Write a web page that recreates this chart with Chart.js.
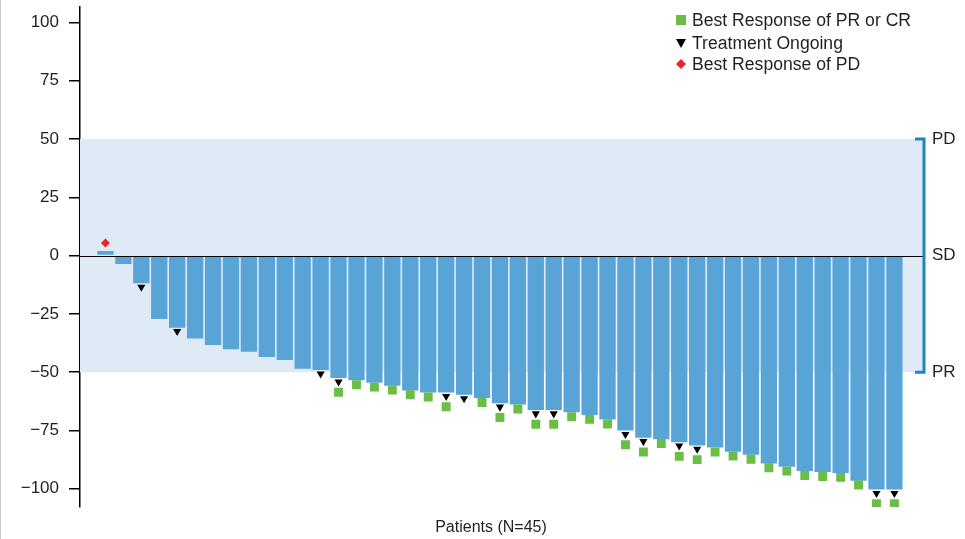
<!DOCTYPE html>
<html>
<head>
<meta charset="utf-8">
<title>Best change in tumour size</title>
<script src="https://cdn.jsdelivr.net/npm/chart.js@4/dist/chart.umd.min.js"></script>
<style>
    html, body { margin: 0; padding: 0; background: #fff; }
    #wrap { position: relative; width: 965px; height: 539px; }
    #edge { position: absolute; left: 0; top: 0; width: 1px; height: 539px; background: #c8c8c8; }
</style>
</head>
<body>
<div id="wrap">
    <canvas id="waterfall" width="965" height="539"></canvas>
    <div id="edge"></div>
</div>
<script>
// Patients, ordered by best % change from baseline
const patients = [1, 2, 3, 4, 5, 6, 7, 8, 9, 10, 11, 12, 13, 14, 15, 16, 17, 18, 19, 20, 21, 22, 23,
    24, 25, 26, 27, 28, 29, 30, 31, 32, 33, 34, 35, 36, 37, 38, 39, 40, 41, 42, 43, 44, 45];
const bestChange = [2.0, -3.6, -11.9, -27.2, -30.9, -35.6, -38.3, -40.2, -41.2, -43.5, -44.8, -48.5,
    -49.1, -52.5, -53.5, -54.5, -55.8, -57.8, -58.7, -58.7, -59.7, -61.1, -63.3, -63.9, -66.2, -66.2,
    -67.2, -68.3, -70.3, -75.0, -78.1, -78.7, -80.0, -81.4, -82.3, -84.1, -85.4, -89.1, -90.5, -92.4,
    -92.8, -93.2, -96.5, -100.3, -100.3];

// Marker flags (patient numbers)
const responders = [14, 15, 16, 17, 18, 19, 20, 22, 23, 24, 25, 26, 27, 28, 29, 30, 31, 32, 33, 34,
    35, 36, 37, 38, 39, 40, 41, 42, 43, 44, 45];
const ongoing = [3, 5, 13, 14, 20, 21, 23, 25, 26, 30, 31, 33, 34, 44, 45];
const progressed = [1];

const yTicks = [100, 75, 50, 25, 0, -25, -50, -75, -100];
const bandLabels = [
    { value: 50, text: 'PD' },
    { value: 0, text: 'SD' },
    { value: -50, text: 'PR' }
];
const legendItems = ['Best Response of PR or CR', 'Treatment Ongoing', 'Best Response of PD'];
const xTitle = 'Patients (N=45)';

const BAR = '#58a4d7';
const BAND = '#deeaf6';
const GREEN = '#6abd45';
const RED = '#e8262b';
const BRACKET = '#1f82c8';
const TEXT = '#231f20';
const FONT = '"Liberation Sans", Arial, sans-serif';

// marker offsets below/above the bar end, in axis units
const triGap = 1.6;
const squareGap = 1.9;
const squareBelowTri = 6.1;
const diamondGap = 3.4;

const value = p => bestChange[patients.indexOf(p)];

const barPoints = patients.map((p, i) => ({ x: p, y: bestChange[i] }));
const squarePoints = responders.map(p => ({
    x: p,
    y: value(p) - (ongoing.includes(p) ? squareBelowTri : squareGap)
}));
const trianglePoints = ongoing.map(p => ({ x: p, y: value(p) - triGap }));
const diamondPoints = progressed.map(p => ({ x: p, y: value(p) + diamondGap }));

// shaded SD band, zero line, right bracket, axis title and the legend
const decorations = {
    id: 'decorations',
    beforeDatasetsDraw(chart) {
        const { ctx, chartArea, scales: { y } } = chart;
        const top = y.getPixelForValue(50);
        const bottom = y.getPixelForValue(-50);
        ctx.save();
        ctx.fillStyle = BAND;
        ctx.fillRect(chartArea.left, top, chartArea.right - chartArea.left, bottom - top);
        ctx.restore();
    },
    afterDatasetsDraw(chart) {
        const { ctx, chartArea, scales: { x, y } } = chart;
        ctx.save();

        // zero line
        const y0 = Math.round(y.getPixelForValue(0)) + 0.5;
        ctx.strokeStyle = '#000';
        ctx.lineWidth = 1;
        ctx.beginPath();
        ctx.moveTo(chartArea.left, y0);
        ctx.lineTo(chartArea.right, y0);
        ctx.stroke();

        // bracket on the right
        const bx = chartArea.right;
        const top = y.getPixelForValue(50);
        const bottom = y.getPixelForValue(-50);
        ctx.strokeStyle = BRACKET;
        ctx.lineWidth = 3;
        ctx.beginPath();
        ctx.moveTo(bx - 9, top);
        ctx.lineTo(bx, top);
        ctx.lineTo(bx, bottom);
        ctx.lineTo(bx - 9, bottom);
        ctx.stroke();

        ctx.fillStyle = TEXT;
        ctx.font = '17px ' + FONT;
        ctx.textAlign = 'left';
        ctx.textBaseline = 'middle';
        bandLabels.forEach(b => ctx.fillText(b.text, bx + 8, y.getPixelForValue(b.value)));

        // x axis title, centred under the middle patients
        ctx.font = '16px ' + FONT;
        ctx.textAlign = 'center';
        ctx.fillText(xTitle, x.getPixelForValue(22.5), chart.height - 11);

        // legend
        const lx = 681;
        const rows = [20, 43, 64];
        ctx.fillStyle = GREEN;
        ctx.fillRect(lx - 5, rows[0] - 5, 10, 10);
        ctx.fillStyle = '#000';
        ctx.beginPath();
        ctx.moveTo(lx - 5, rows[1] - 4);
        ctx.lineTo(lx + 5, rows[1] - 4);
        ctx.lineTo(lx, rows[1] + 5);
        ctx.closePath();
        ctx.fill();
        ctx.fillStyle = RED;
        ctx.beginPath();
        ctx.moveTo(lx, rows[2] - 5);
        ctx.lineTo(lx + 5, rows[2]);
        ctx.lineTo(lx, rows[2] + 5);
        ctx.lineTo(lx - 5, rows[2]);
        ctx.closePath();
        ctx.fill();

        ctx.fillStyle = TEXT;
        ctx.font = '17.6px ' + FONT;
        ctx.textAlign = 'left';
        legendItems.forEach((t, i) => ctx.fillText(t, lx + 11, rows[i] + 1));
        ctx.restore();
    }
};

const ctx = document.getElementById('waterfall').getContext('2d');
new Chart(ctx, {
    data: {
        datasets: [
            {
                type: 'scatter',
                label: 'Best Response of PD',
                data: diamondPoints,
                pointStyle: 'rectRot',
                pointRadius: 4.5,
                backgroundColor: RED,
                borderWidth: 0,
                order: 0
            },
            {
                type: 'scatter',
                label: 'Treatment Ongoing',
                data: trianglePoints,
                pointStyle: 'triangle',
                rotation: 180,
                pointRadius: 4.7,
                backgroundColor: '#000',
                borderWidth: 0,
                order: 0
            },
            {
                type: 'scatter',
                label: 'Best Response of PR or CR',
                data: squarePoints,
                pointStyle: 'rect',
                pointRadius: 6.3,
                backgroundColor: GREEN,
                borderWidth: 0,
                order: 0
            },
            {
                type: 'bar',
                label: 'Best change from baseline (%)',
                data: barPoints,
                backgroundColor: BAR,
                borderWidth: 0,
                categoryPercentage: 1,
                barPercentage: 0.91,
                order: 1
            }
        ]
    },
    options: {
        responsive: false,
        animation: false,
        layout: { padding: { top: 6, right: 41, bottom: 0, left: 0 } },
        plugins: {
            legend: { display: false },
            tooltip: { enabled: false }
        },
        scales: {
            x: {
                type: 'linear',
                offset: false,
                min: -0.42,
                max: 46.65,
                grid: { display: false },
                border: { display: false },
                ticks: { display: false },
                afterFit: (scale) => { scale.height = 32; }
            },
            y: {
                min: -107.8,
                max: 106.9,
                afterBuildTicks: (scale) => { scale.ticks = yTicks.map(v => ({ value: v })); },
                afterFit: (scale) => {
                    scale.width = 80;
                    scale.paddingTop = 0;
                    scale.paddingBottom = 0;
                },
                grid: {
                    drawOnChartArea: false,
                    drawTicks: true,
                    tickLength: 11,
                    color: '#000',
                    lineWidth: 1.5
                },
                border: { display: true, color: '#000', width: 1.5 },
                ticks: {
                    color: TEXT,
                    padding: 10,
                    font: { family: FONT, size: 17 },
                    callback: (v) => String(v).replace('-', '\u2212')
                }
            }
        }
    },
    plugins: [decorations]
});
</script>
</body>
</html>
